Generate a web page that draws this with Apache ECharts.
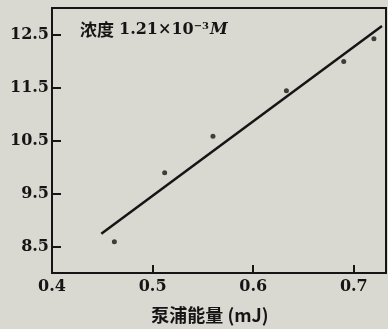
<!DOCTYPE html>
<html>
<head>
<meta charset="utf-8">
<script src="https://cdn.jsdelivr.net/npm/echarts@6/dist/echarts.min.js"></script>
<style>
  html, body { margin: 0; padding: 0; background: #dad9d1; }
  #chart { width: 388px; height: 329px; }
</style>
</head>
<body>
<div id="chart"></div>
<script>
const pumpEnergy = [0.462, 0.512, 0.560, 0.633, 0.690, 0.720];
const measured = [8.59, 9.89, 10.58, 11.44, 11.99, 12.42];
// fitted straight line, two end points
const fitEnergy = [0.449, 0.728];
const fitValue = [8.74, 12.66];
const xTicks = [0.4, 0.5, 0.6, 0.7];
const yTicks = [8.5, 9.5, 10.5, 11.5, 12.5];

const ink = "#151515";
const serif = "DejaVu Serif";

const chart = echarts.init(document.getElementById("chart"), null, { renderer: "canvas" });

chart.setOption({
  animation: false,
  backgroundColor: "#dad9d1",
  title: {
    left: 80,
    top: 21,
    padding: 0,
    text: "{a|浓度} {b|1.21×10}{s|−3}{m|M}",
    textStyle: {
      rich: {
        a: { fontFamily: "Noto Sans CJK SC", fontSize: 17, color: ink },
        b: { fontFamily: serif, fontWeight: "bold", fontSize: 16, color: ink },
        s: { fontFamily: serif, fontSize: 10, color: ink, verticalAlign: "top", padding: [0, 1, 8, 0] },
        m: { fontFamily: serif, fontStyle: "italic", fontSize: 16, color: ink }
      }
    }
  },
  grid: {
    left: 52,
    right: 2,
    top: 8,
    bottom: 55,
    show: true,
    borderColor: ink,
    borderWidth: 2,
    backgroundColor: "transparent"
  },
  xAxis: {
    type: "value",
    min: 0.4,
    max: 0.732,
    name: "泵浦能量 (mJ)",
    nameLocation: "middle",
    nameGap: 33,
    nameTextStyle: {
      fontFamily: "Noto Sans CJK SC",
      fontWeight: "bold",
      fontSize: 18,
      color: ink,
      padding: [0, 18, 0, 0]
    },
    axisLine: { show: true, onZero: false, lineStyle: { color: ink, width: 2 } },
    axisTick: { show: true, inside: true, length: 8, customValues: xTicks.slice(1), lineStyle: { color: ink, width: 2 } },
    axisLabel: {
      customValues: xTicks,
      margin: 6,
      fontFamily: serif,
      fontWeight: "bold",
      fontSize: 16,
      color: ink,
      formatter: (v) => v.toFixed(1)
    },
    splitLine: { show: false }
  },
  yAxis: {
    type: "value",
    min: 8,
    max: 13,
    axisLine: { show: true, onZero: false, lineStyle: { color: ink, width: 2 } },
    axisTick: { show: true, inside: true, length: 9, customValues: yTicks, lineStyle: { color: ink, width: 2 } },
    axisLabel: {
      customValues: yTicks,
      margin: 3,
      fontFamily: serif,
      fontWeight: "bold",
      fontSize: 16,
      color: ink,
      formatter: (v) => v.toFixed(1)
    },
    splitLine: { show: false }
  },
  series: [
    {
      type: "line",
      data: fitEnergy.map((x, i) => [x, fitValue[i]]),
      showSymbol: false,
      lineStyle: { color: ink, width: 2.5 },
      silent: true
    },
    {
      type: "scatter",
      data: pumpEnergy.map((x, i) => [x, measured[i]]),
      symbolSize: 5,
      itemStyle: { color: ink }
    }
  ]
});
</script>
</body>
</html>
